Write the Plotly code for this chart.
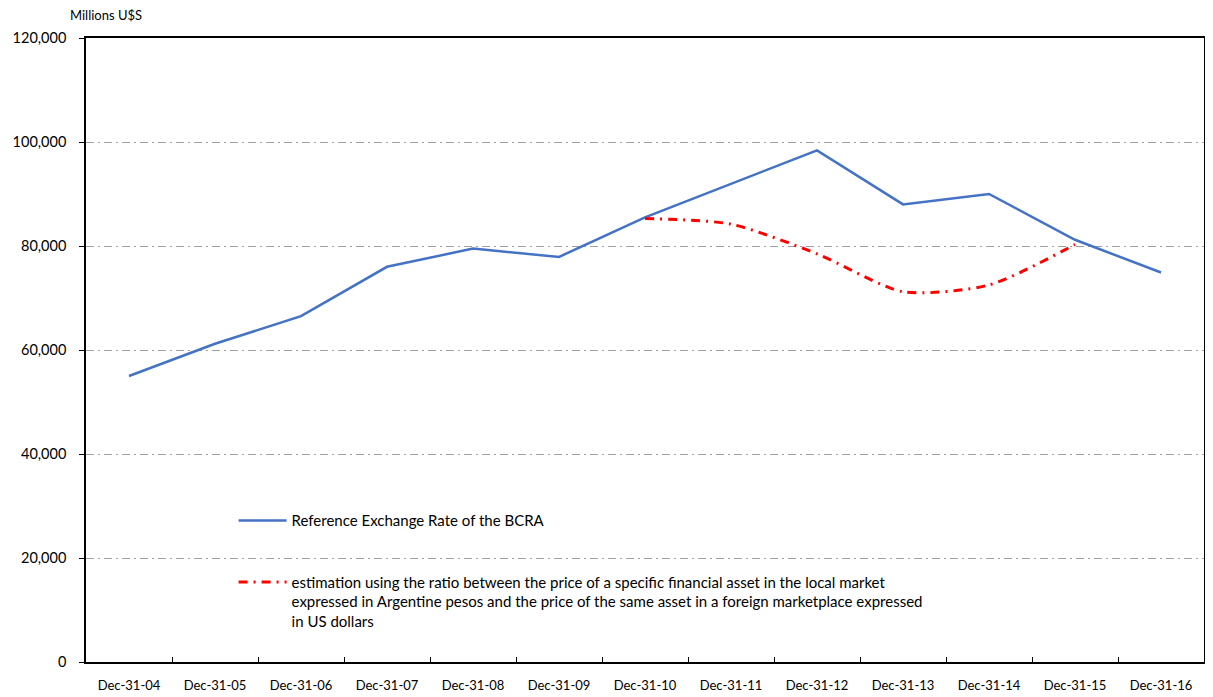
import plotly.graph_objects as go

dates = ["Dec-31-04", "Dec-31-05", "Dec-31-06", "Dec-31-07", "Dec-31-08", "Dec-31-09",
         "Dec-31-10", "Dec-31-11", "Dec-31-12", "Dec-31-13", "Dec-31-14", "Dec-31-15", "Dec-31-16"]
bcra = [55000, 61200, 66500, 76000, 79500, 77900, 85500, 92000, 98400, 88000, 90000, 81200, 74900]
estimation = [None, None, None, None, None, None, 85300, 84200, 78500, 71200, 72500, 80300, None]

name_bcra = "Reference Exchange Rate of the BCRA"
name_est = ("estimation using the ratio between the price of a specific financial asset in the local market<br>"
            "expressed in Argentine pesos and the price of the same asset in a foreign marketplace expressed<br>"
            "in US dollars")

font_family = "Lato, 'Open Sans', sans-serif"

fig = go.Figure()
fig.add_trace(go.Scatter(x=dates, y=bcra, mode="lines", name=name_bcra,
                         line=dict(color="#4472C4", width=2.5), legendgroup="a"))
fig.add_trace(go.Scatter(x=dates, y=estimation, mode="lines", name=name_est,
                         line=dict(color="#FF0000", width=3, dash="9px,6px,2px,6px", shape="spline", smoothing=0.7),
                         legendgroup="b"))

# page body has an 8px default margin, so margins are shifted by 8px
fig.update_layout(
    width=1213, height=697,
    margin=dict(l=78, r=17, t=30, b=43, autoexpand=False),
    paper_bgcolor="white", plot_bgcolor="white",
    font=dict(family=font_family, size=14, color="black"),
    showlegend=True,
    legend=dict(x=0.132, y=0.253, xanchor="left", yanchor="top",
                bgcolor="rgba(0,0,0,0)", tracegroupgap=39, traceorder="grouped",
                valign="top", itemwidth=48, font=dict(size=15)),
    xaxis=dict(type="category", range=[-0.5, 12.5], showline=True, linecolor="black", linewidth=1.5,
               mirror=True, ticks="inside", ticklen=5, tickcolor="black", tickson="boundaries",
               showgrid=False, ticklabelstandoff=11, tickfont=dict(size=13), automargin=False),
    yaxis=dict(range=[0, 120000], tickvals=[0, 20000, 40000, 60000, 80000, 100000, 120000],
               tickformat=",d", showline=True, linecolor="black", linewidth=1.5, mirror=True,
               ticks="outside", ticklen=5, tickcolor="black",
               showgrid=True, gridcolor="#A0A0A0", gridwidth=1, griddash="8px,4px,2px,4px",
               zeroline=False, ticklabelstandoff=10, tickfont=dict(size=14.5), automargin=False),
    annotations=[dict(text="Millions U$S", xref="paper", yref="paper", x=-0.016, y=1.0369,
                      xanchor="left", yanchor="middle", showarrow=False, font=dict(size=13))],
)

fig.write_html("out.html")
